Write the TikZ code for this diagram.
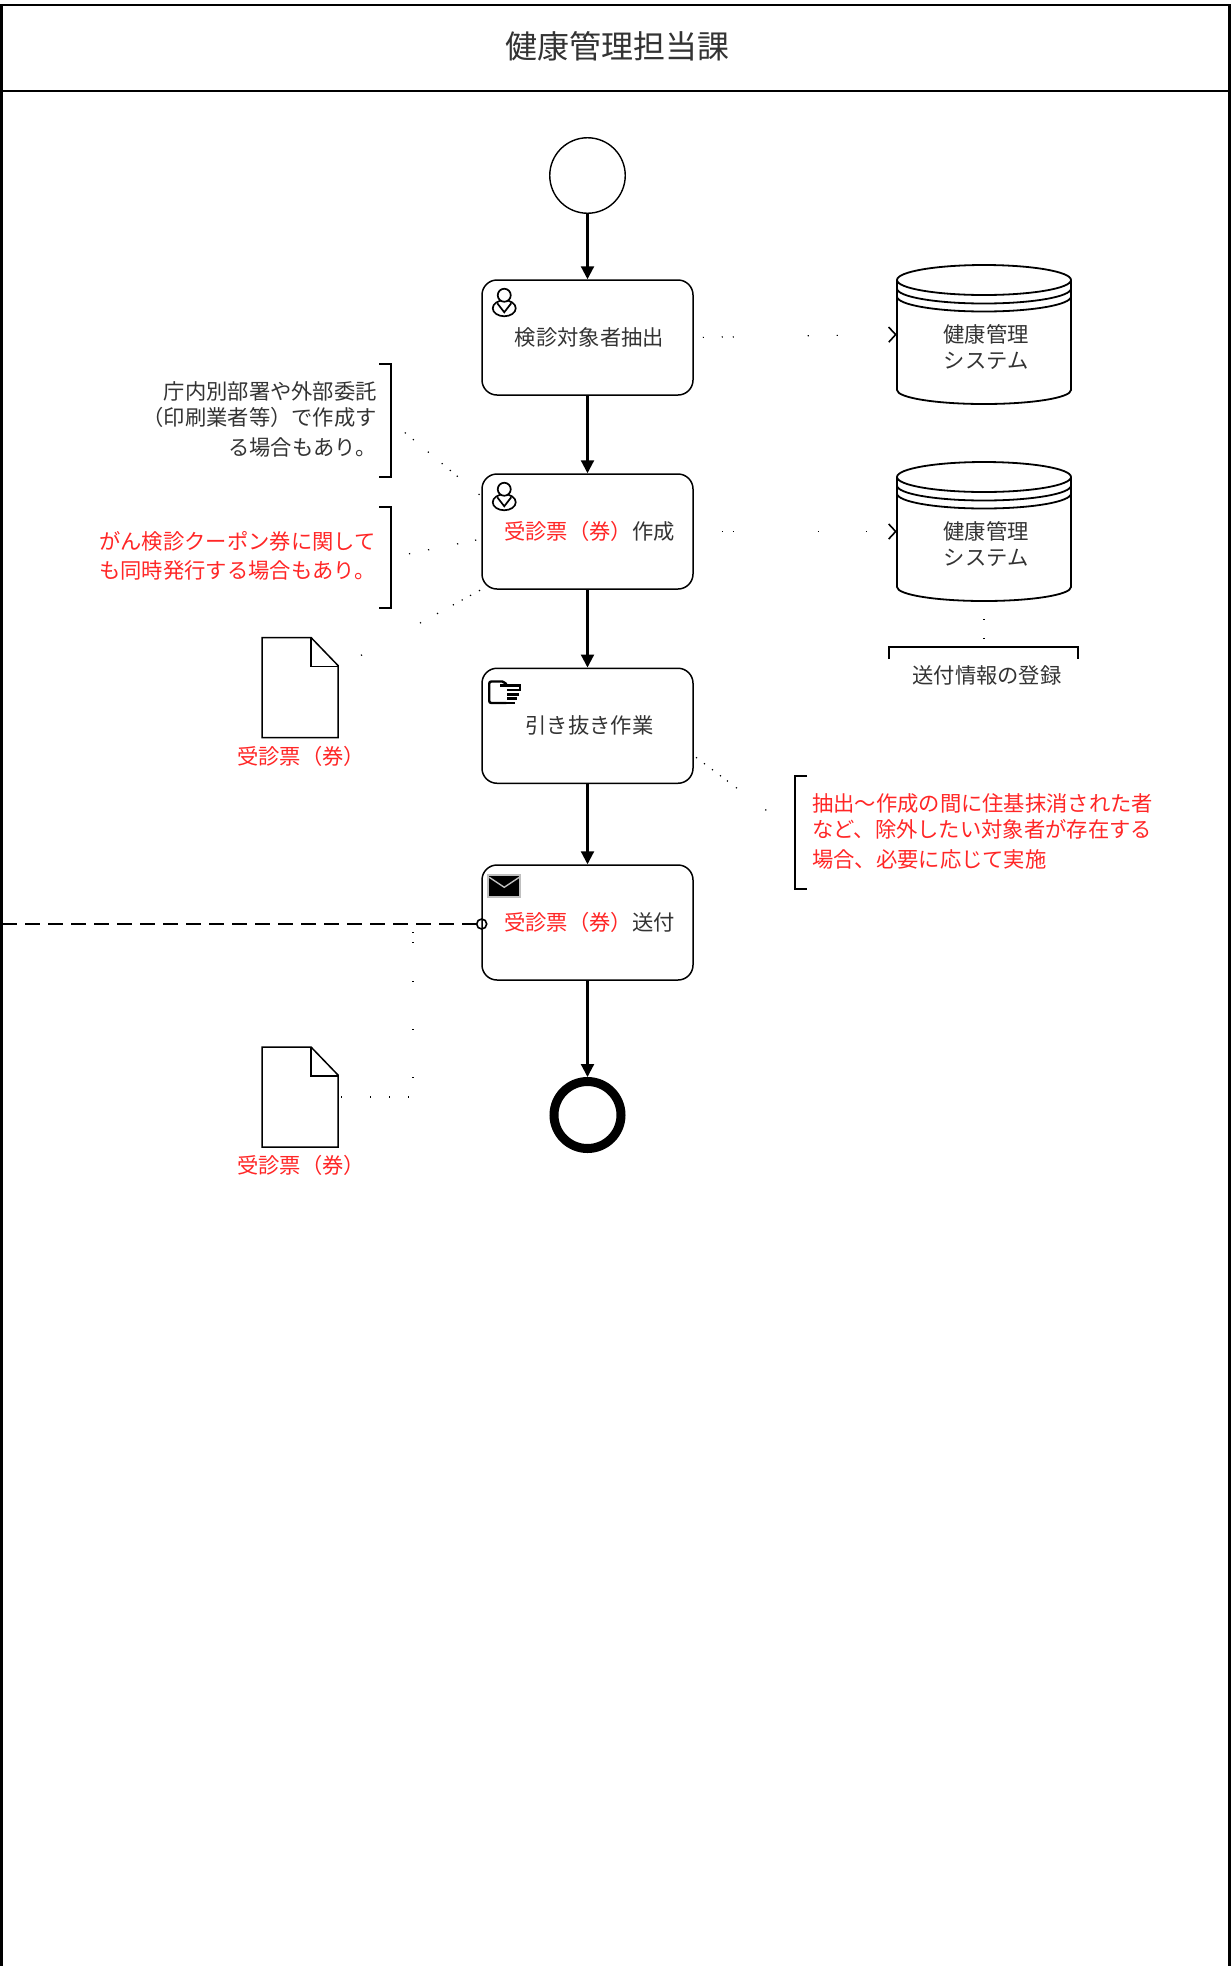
\documentclass[tikz,border=0pt]{standalone}
\usepackage{fontspec}
\setmainfont{Noto Sans CJK JP}
\usepackage{tikz}
\usetikzlibrary{arrows.meta}

\colorlet{redink}{red!85}
\tikzset{
  task/.style={draw, rounded corners=15pt, line width=1.5pt, minimum width=211pt, minimum height=115pt, inner sep=0pt, text=black!80, font=\fontsize{21.3}{26}\selectfont, execute at begin node=\hspace*{4pt}},
  note/.style={inner sep=0pt, text=black!80, font=\fontsize{21.3}{26}\selectfont},
  redtext/.style={note, text=redink},
  flow/.style={->, line width=2.2pt},
  bracket/.style={line width=1.8pt},
  dotline/.style={line width=1.2pt, dash pattern=#1},
  dbarrow/.style={-{Straight Barb[length=7pt,width=15pt,line width=1.6pt]}},
  usericon/.pic={
    \draw[line width=1.7pt, fill=white] (23,29) ellipse (11.5 and 8);
    \draw[line width=1.7pt] (16,24) -- (23,33) -- (30,24);
    \draw[line width=1.7pt, fill=white] (23,16) circle (6.5);
  },
  handicon/.pic={
    \draw[line width=2.4pt, rounded corners=2pt] (25,35.5) -- (8,35.5) -- (8,14) -- (23,14) -- (25,17);
    \draw[line width=2.4pt] (19,18) -- (39,18) -- (39,22.5) -- (26,22.5) (26,27) -- (38,27) (26,31) -- (36,31) (25,35.5) -- (34,35.5);
  },
  mailicon/.pic={
    \fill[black!25] (6,10) rectangle (40,34);
    \fill (8,12) rectangle (38,32);
    \draw[black!25, line width=1.4pt] (8,13) -- (23,23) -- (38,13);
  },
  docicon/.pic={
    \draw[line width=1.5pt, fill=white] (-38,-50) -- (11,-50) -- (38,-22) -- (38,50) -- (-38,50) -- cycle;
    \draw[line width=1.5pt] (11,-50) -- (11,-21) -- (38,-21);
  }
}

\begin{document}
\begin{tikzpicture}[>={Triangle[length=13pt,width=13pt]}, x=1pt, y=-1pt]
    \useasboundingbox (0,0) rectangle (1231,1966);

    % Pool frame and header
    \draw[line width=2.6pt] (1.3,1975) -- (1.3,5) -- (1229.5,5) -- (1229.5,1975);
    \draw[line width=2.2pt] (1.3,91) -- (1229.5,91);
    \node (title) at (617,46) [note, font=\fontsize{32}{38}\selectfont] {健康管理担当課};

    % Events and tasks
    \node (startev) at (587.5,175.5) [draw, circle, line width=1.4pt, minimum size=75.5pt, inner sep=0pt] {};
    \node (taskA) at (587.5,337.5) [task] {検診対象者抽出};
    \node (taskB) at (587.5,531.5) [task] {\textcolor{redink}{受診票（券）}作成};
    \node (taskC) at (587.5,725.75) [task] {引き抜き作業};
    \node (taskD) at (587.5,922.5) [task] {\textcolor{redink}{受診票（券）}送付};
    \node (endev) at (587.5,1115) [draw, circle, line width=9pt, minimum size=67pt, inner sep=0pt, outer sep=4.5pt] {};

    \pic at (taskA.north west) {usericon};
    \pic at (taskB.north west) {usericon};
    \pic at (taskC.north west) {handicon};
    \pic at (taskD.north west) {mailicon};

    % Sequence flow
    \draw[flow] (startev) -- (taskA);
    \draw[flow] (taskA) -- (taskB);
    \draw[flow] (taskB) -- (taskC);
    \draw[flow] (taskC) -- (taskD);
    \draw[flow] (taskD) -- (endev);

    % Data stores
    \foreach \dbname/\dby in {dbA/334.5, dbB/531.5} {
        \node (\dbname) at (984,\dby) [minimum width=174pt, minimum height=139pt, inner sep=0pt] {};
        \draw[line width=1.8pt] (\dbname.center) ++(-87,-54.5) -- ++(0,110) arc[start angle=180, end angle=0, x radius=87, y radius=14] -- ++(0,-110);
        \draw[line width=1.8pt] (\dbname.center) ++(0,-54.5) ellipse (87 and 15);
        \draw[line width=1.8pt] (\dbname.center) ++(-87,-46) arc[start angle=180, end angle=0, x radius=87, y radius=15];
        \draw[line width=1.8pt] (\dbname.center) ++(-87,-38) arc[start angle=180, end angle=0, x radius=87, y radius=15];
    }
    \node (dbAtext) at (986,347.5) [note, align=center] {健康管理\\システム};
    \node (dbBtext) at (986,544) [note, align=center] {健康管理\\システム};

    % Data objects
    \node (docA) at (300,687.5) [minimum width=76pt, minimum height=100pt, inner sep=0pt] {};
    \node (docB) at (300,1097) [minimum width=76pt, minimum height=100pt, inner sep=0pt] {};
    \pic at (docA.center) {docicon};
    \pic at (docB.center) {docicon};
    \node (docAtext) at (301,756) [redtext] {受診票（券）};
    \node (docBtext) at (301,1165) [redtext] {受診票（券）};

    % Annotations
    \draw[bracket] (379,364) -- (391,364) -- (391,477) -- (379,477);
    \draw[bracket] (379,507) -- (391,507) -- (391,608) -- (379,608);
    \draw[bracket] (807,776) -- (795,776) -- (795,889) -- (807,889);
    \draw[bracket] (889,659) -- (889,647) -- (1078,647) -- (1078,659);
    \node (noteA) at (377,419) [note, anchor=east, align=right] {庁内別部署や外部委託\\（印刷業者等）で作成す\\[4pt]る場合もあり。};
    \node (noteB) at (376,556) [redtext, anchor=east, align=left] {がん検診クーポン券に関して\\[3pt]も同時発行する場合もあり。};
    \node (noteC) at (812,831) [redtext, anchor=west, align=left] {抽出～作成の間に住基抹消された者\\など、除外したい対象者が存在する\\[4pt]場合、必要に応じて実施};
    \node (noteD) at (987,675) [note] {送付情報の登録};

    \coordinate (noteAmid) at (391,421);
    \coordinate (noteBmid) at (391,557.5);
    \coordinate (noteCmid) at (795,832);
    \coordinate (noteDmid) at (984,647);
    \coordinate (docAfold) at (338,668);
    \coordinate (taskBupper) at (481,496);
    \coordinate (taskBmid) at (481,539);
    \coordinate (taskBlow) at (484,588);
    \coordinate (taskCout) at (693,755);

    % Associations
    \draw[dbarrow, dotline={on 0pt off 9pt on 1.2pt off 17.8pt on 1.2pt off 9.8pt on 1.2pt off 73.8pt on 1.2pt off 27.8pt on 1.2pt off 100pt}] (taskA.east) -- (dbA.west);
    \draw[dbarrow, dotline={on 0pt off 28pt on 1.2pt off 9.8pt on 1.2pt off 83.8pt on 1.2pt off 46.8pt on 1.2pt off 100pt}] (taskB.east) -- (dbB.west);
    \draw[dotline={on 0pt off 18pt on 1.2pt off 9.3pt on 1.2pt off 18.3pt on 1.2pt off 16.8pt on 1.2pt off 9.4pt on 1.2pt off 7.9pt on 1.2pt off 27.1pt on 1.2pt off 100pt}] (noteAmid) -- (taskBupper);
    \draw[dotline={on 0pt off 18.4pt on 1.2pt off 18.2pt on 1.2pt off 28.4pt on 1.2pt off 17.2pt on 1.2pt off 100pt}] (noteBmid) -- (taskBmid);
    \draw[dotline={on 0pt off 26.2pt on 1.2pt off 66.1pt on 1.2pt off 18.2pt on 1.2pt off 16.9pt on 1.2pt off 8.8pt on 1.2pt off 8.3pt on 1.2pt off 9pt on 1.2pt off 100pt}] (docAfold) -- (taskBlow);
    \draw[dotline={on 0pt off 3.8pt on 1.2pt off 8.8pt on 1.2pt off 8.8pt on 1.2pt off 8.8pt on 1.2pt off 7.5pt on 1.2pt off 10.1pt on 1.2pt off 35.6pt on 1.2pt off 100pt}] (taskCout) -- (noteCmid);
    \draw[dotline={on 0pt off 18pt on 1.2pt off 17.8pt on 1.2pt off 100pt}] (dbB.south) -- (noteDmid);

    % Message flow
    \node (msgend) at (481.7,924) [draw, circle, line width=1.6pt, minimum size=10pt, inner sep=0pt] {};
    \coordinate (msgfrom) at (2,924);
    \coordinate (msgjoin) at (413,924);
    \draw[line width=1.8pt, dash pattern=on 15pt off 8pt] (msgfrom) -- (msgend);
    \draw[dotline={on 0pt off 3pt on 1.2pt off 27.8pt on 1.2pt off 17.8pt on 1.2pt off 17.8pt on 1.2pt off 22.8pt on 1.2pt off 46.8pt on 1.2pt off 46.8pt on 1.2pt off 37.8pt on 1.2pt off 8.8pt on 1.2pt off 100pt}] (docB.east) -| (msgjoin);
\end{tikzpicture}
\end{document}
